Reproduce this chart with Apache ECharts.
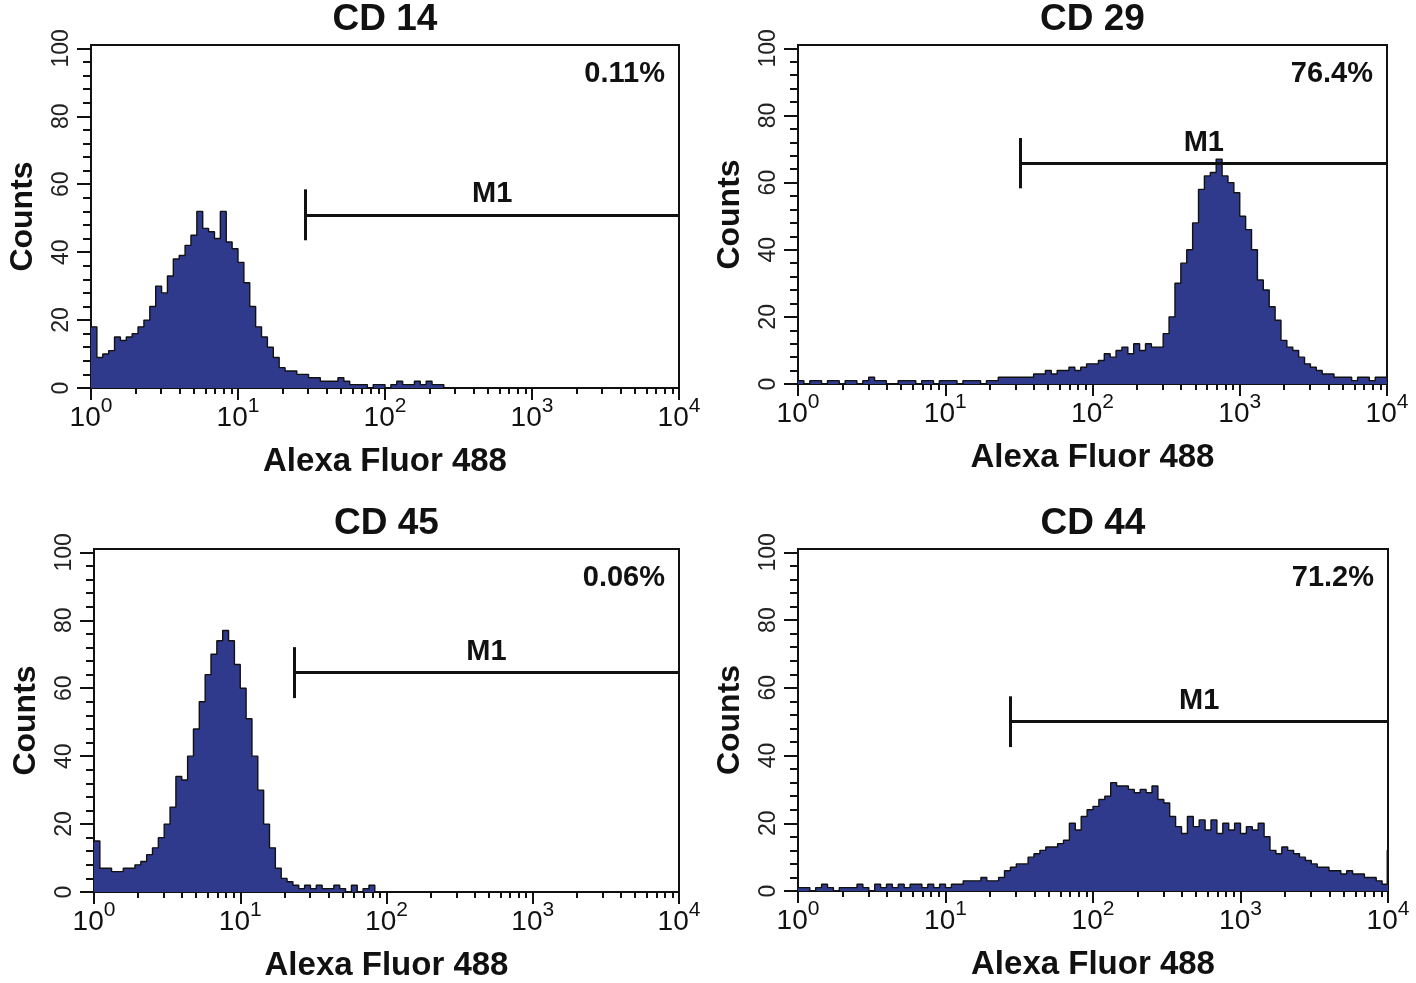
<!DOCTYPE html>
<html><head><meta charset="utf-8">
<script src="https://cdn.jsdelivr.net/npm/echarts@6/dist/echarts.min.js"></script>
<style>html,body{margin:0;padding:0;background:#fff}#c{width:1416px;height:983px}</style>
</head><body><div id="c"></div>
<script>
// ---------- data ----------
const panelTitles = ['CD 14', 'CD 29', 'CD 45', 'CD 44'];
const percentLabels = ['0.11%', '76.4%', '0.06%', '71.2%'];
const xAxisTitle = 'Alexa Fluor 488';
const yAxisTitle = 'Counts';
const xTickExponents = [0, 1, 2, 3, 4];          // 10^0 ... 10^4
const yTickLabels = [0, 20, 40, 60, 80, 100];
const binWidth = 0.04;                            // channel width, in decades

const cd14Counts = [18, 9, 10, 11, 15, 14, 15, 16, 18, 20,
  24, 30, 28, 33, 38, 39, 42, 45, 52, 47,
  46, 44, 52, 43, 41, 37, 31, 24, 18, 15,
  12, 9, 6, 5, 5, 4, 4, 3, 3, 2,
  2, 2, 3, 2, 1, 1, 1, 0, 1, 1,
  0, 1, 2, 1, 1, 2, 1, 2, 1, 1,
  0, 0, 0, 0, 0, 0, 0, 0, 0, 0,
  0, 0, 0, 0, 0, 0, 0, 0, 0, 0,
  0, 0, 0, 0, 0, 0, 0, 0, 0, 0,
  0, 0, 0, 0, 0, 0, 0, 0, 0, 0];
const cd29Counts = [1, 0, 1, 1, 0, 1, 1, 0, 1, 1,
  0, 1, 2, 1, 1, 0, 0, 1, 1, 1,
  0, 1, 1, 0, 1, 1, 1, 0, 1, 1,
  1, 0, 1, 1, 2, 2, 2, 2, 2, 2,
  3, 3, 4, 3, 4, 4, 5, 4, 5, 6,
  6, 7, 9, 8, 10, 11, 9, 12, 10, 12,
  11, 11, 15, 20, 30, 36, 40, 48, 58, 62,
  63, 67, 62, 60, 57, 50, 46, 40, 31, 28,
  23, 19, 13, 11, 10, 8, 6, 5, 4, 3,
  3, 2, 2, 2, 1, 2, 2, 1, 2, 2];
const cd45Counts = [15, 7, 7, 6, 6, 7, 7, 8, 9, 11,
  13, 16, 20, 25, 34, 33, 40, 48, 56, 64,
  70, 74, 77, 74, 67, 60, 51, 40, 30, 20,
  13, 7, 4, 3, 2, 1, 2, 1, 2, 1,
  1, 2, 1, 0, 2, 0, 1, 2, 0, 0,
  0, 0, 0, 0, 0, 0, 0, 0, 0, 0,
  0, 0, 0, 0, 0, 0, 0, 0, 0, 0,
  0, 0, 0, 0, 0, 0, 0, 0, 0, 0,
  0, 0, 0, 0, 0, 0, 0, 0, 0, 0,
  0, 0, 0, 0, 0, 0, 0, 0, 0, 0];
const cd44Counts = [1, 1, 0, 1, 2, 1, 0, 1, 1, 1,
  2, 1, 0, 2, 1, 2, 1, 2, 1, 2,
  2, 1, 2, 1, 2, 1, 2, 2, 3, 3,
  3, 4, 3, 3, 4, 6, 7, 8, 8, 10,
  11, 12, 13, 13, 14, 15, 20, 18, 22, 24,
  25, 27, 28, 32, 31, 31, 30, 29, 30, 29,
  31, 27, 26, 22, 19, 17, 22, 19, 21, 18,
  21, 17, 20, 18, 20, 17, 19, 18, 20, 16,
  12, 11, 13, 12, 11, 10, 9, 8, 7, 7,
  6, 6, 5, 6, 5, 5, 4, 4, 3, 2];
const edgeCounts = [0, 2, 0, 12];                 // count in the top (off-scale) channel
const markerStart = [28.7, 32.5, 23.3, 27.6];     // M1 gate start (fluorescence)
const markerLevel = [51, 65.8, 64.6, 50];         // M1 bar height (counts)
const markerName = 'M1';

// ---------- layout ----------
const panelCounts = [cd14Counts, cd29Counts, cd45Counts, cd44Counts];
const grids = [
  {left: 91, top: 45, width: 588, height: 343},
  {left: 798, top: 45, width: 589, height: 339},
  {left: 94, top: 549, width: 585, height: 344},
  {left: 798, top: 549, width: 590, height: 342}
];
const Y_MAX = 101;
const BOLD = "'Liberation Sans', Arial, Helvetica, sans-serif";
const NARROW = "'Liberation Sans Narrow', 'Liberation Sans', Arial, sans-serif";
const INK = '#111';
const FILL = '#2f3a8c';

const minorXTicks = [];
for (let d = 0; d < 4; d++) for (let m = 2; m <= 9; m++) minorXTicks.push(d + Math.log10(m));
const minorYTicks = [];
for (let v = 4; v < 100; v += 4) if (v % 20) minorYTicks.push(v);

const xAxes = [], yAxes = [], series = [], titles = [], graphics = [];
grids.forEach((g, k) => {
  xAxes.push({
    gridIndex: k, type: 'value', min: 0, max: 4, position: 'bottom',
    axisLine: {onZero: false, lineStyle: {color: INK, width: 2}},
    axisTick: {length: 12, lineStyle: {color: INK, width: 2}, customValues: xTickExponents},
    axisLabel: {
      customValues: xTickExponents, margin: 8,
      formatter: v => '{b|10}{s|' + v + '}',
      rich: {
        b: {fontSize: 28, fontFamily: NARROW, color: INK, lineHeight: 36, verticalAlign: 'bottom'},
        s: {fontSize: 21, fontFamily: NARROW, color: INK, lineHeight: 21, verticalAlign: 'top'}
      }
    },
    splitLine: {show: false},
    name: xAxisTitle, nameLocation: 'middle', nameGap: 57,
    nameTextStyle: {fontSize: 33, fontWeight: 'bold', fontFamily: BOLD, color: INK}
  });
  xAxes.push({
    gridIndex: k, type: 'value', min: 0, max: 4, position: 'bottom',
    axisLine: {show: false, onZero: false},
    axisTick: {length: 6, lineStyle: {color: INK, width: 2}, customValues: minorXTicks},
    axisLabel: {show: false}, splitLine: {show: false}
  });
  yAxes.push({
    gridIndex: k, type: 'value', min: 0, max: Y_MAX, position: 'left',
    axisLine: {show: true, onZero: false, lineStyle: {color: INK, width: 2}},
    axisTick: {length: 14, lineStyle: {color: INK, width: 2}, customValues: yTickLabels},
    axisLabel: {customValues: yTickLabels, rotate: 90, margin: 18, fontSize: 23, fontFamily: NARROW, color: '#222'},
    splitLine: {show: false},
    name: yAxisTitle, nameLocation: 'middle', nameGap: 52, nameRotate: 90,
    nameTextStyle: {fontSize: 32, fontWeight: 'bold', fontFamily: BOLD, color: INK}
  });
  yAxes.push({
    gridIndex: k, type: 'value', min: 0, max: Y_MAX, position: 'left',
    axisLine: {show: false, onZero: false},
    axisTick: {length: 8, lineStyle: {color: INK, width: 2}, customValues: minorYTicks},
    axisLabel: {show: false}, splitLine: {show: false}
  });

  const counts = panelCounts[k];
  const data = counts.map((v, i) => [i * binWidth, v]);
  data.push([3.995, edgeCounts[k]]);
  data.push([4, edgeCounts[k]]);
  const x0 = Math.log10(markerStart[k]);
  const lvl = markerLevel[k];
  series.push({
    type: 'line', xAxisIndex: 2 * k, yAxisIndex: 2 * k, data,
    step: 'end', symbol: 'none', silent: true,
    lineStyle: {color: INK, width: 1.4},
    areaStyle: {color: FILL, opacity: 1},
    markLine: {
      symbol: 'none', silent: true, animation: false,
      lineStyle: {color: INK, width: 3, type: 'solid'},
      label: {show: false},
      data: [
        [{coord: [x0, lvl], label: {show: true, formatter: markerName, position: 'middle', distance: 6,
           fontSize: 29, fontWeight: 'bold', fontFamily: BOLD, color: INK}}, {coord: [4, lvl]}],
        [{coord: [x0, lvl - 7.5]}, {coord: [x0, lvl + 7.5]}]
      ]
    }
  });

  titles.push({
    text: panelTitles[k], left: g.left + g.width / 2, top: g.top - 44, textAlign: 'center', padding: 0,
    textStyle: {fontSize: 37, fontWeight: 'bold', fontFamily: BOLD, color: INK}
  });
  graphics.push({
    type: 'text', x: g.left + g.width - 14, y: g.top + 29,
    style: {text: percentLabels[k], fill: INK, font: 'bold 29px ' + BOLD,
      align: 'right', verticalAlign: 'middle', textAlign: 'right', textVerticalAlign: 'middle'}
  });
});

const chart = echarts.init(document.getElementById('c'), null, {renderer: 'canvas'});
chart.setOption({
  animation: false,
  backgroundColor: '#fff',
  title: titles,
  grid: grids.map(g => Object.assign({show: true, borderColor: INK, borderWidth: 2, backgroundColor: 'transparent'}, g)),
  xAxis: xAxes,
  yAxis: yAxes,
  series,
  graphic: graphics
});
</script></body></html>
